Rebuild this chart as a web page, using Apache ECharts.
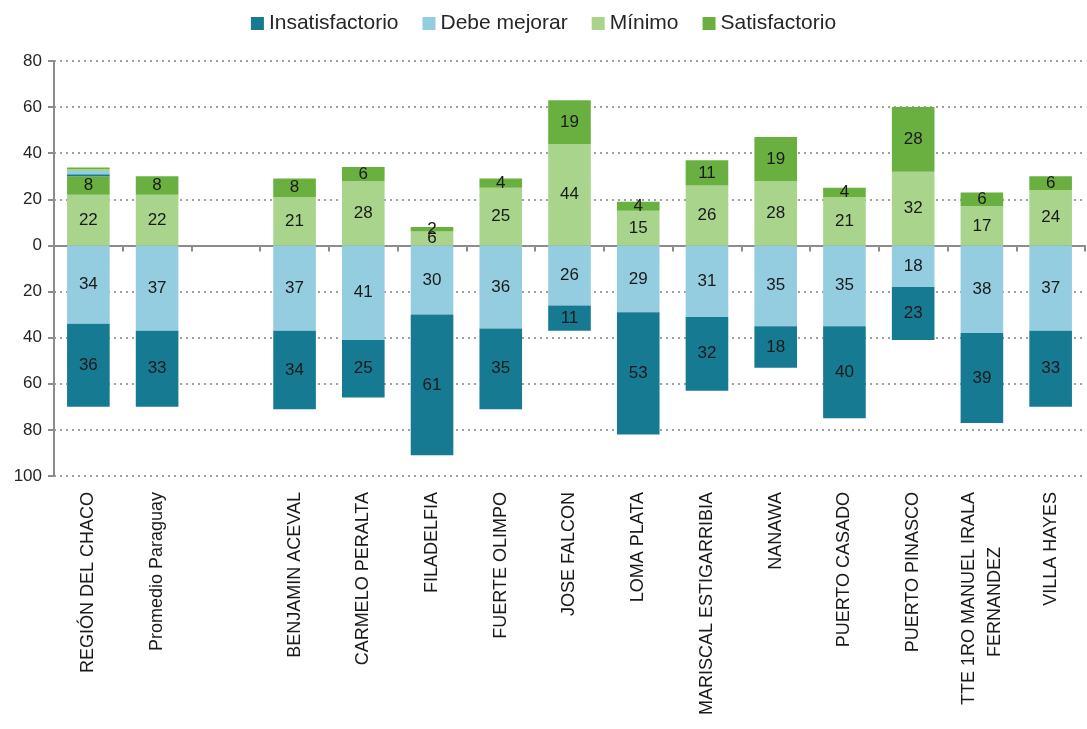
<!DOCTYPE html>
<html><head><meta charset="utf-8">
<script src="https://cdn.jsdelivr.net/npm/echarts@6/dist/echarts.min.js"></script>
<style>html,body{margin:0;padding:0;background:#fff}#c{width:1087px;height:729px}</style>
</head><body><div id="c"></div>
<script>
const categories = ['REGIÓN DEL CHACO','Promedio Paraguay','','BENJAMIN ACEVAL','CARMELO PERALTA','FILADELFIA','FUERTE OLIMPO','JOSE FALCON','LOMA PLATA','MARISCAL ESTIGARRIBIA','NANAWA','PUERTO CASADO','PUERTO PINASCO','TTE 1RO MANUEL IRALA\nFERNANDEZ','VILLA HAYES'];
const insatisfactorio = [36,33,null,34,25,61,35,11,53,32,18,40,23,39,33];
const debeMejorar     = [34,37,null,37,41,30,36,26,29,31,35,35,18,38,37];
const minimo          = [22,22,null,21,28,6,25,44,15,26,28,21,32,17,24];
const satisfactorio   = [8,8,null,8,6,2,4,19,4,11,19,4,28,6,6];
// small extra segments visible on top of the first bar
const extraInsat = [0.9];
const extraDebe  = [1.4];
const extraMin   = [0.7];
const extraSat   = [0.8];
const yTicks = [-100,-80,-60,-40,-20,0,20,40,60,80];

const FONT = 'Liberation Sans, Arial, sans-serif';
const colors = {ins:'#167a92', deb:'#95cde0', min:'#a8d48c', sat:'#6ab040'};
const neg = a => a.map(v => v == null ? null : -v);
const lbl = {show:true, position:'inside', color:'#1a1a1a', fontSize:17, fontFamily:FONT,
  formatter: p => Math.abs(Math.round(p.value))};
function bar(name, data, color, label){
  return {name, type:'bar', stack:'s', data, barWidth:'62%', itemStyle:{color}, label: label ? lbl : {show:false}, emphasis:{disabled:true}};
}
const chart = echarts.init(document.getElementById('c'), null, {renderer:'canvas'});
chart.setOption({
  animation:false,
  legend:{data:['Insatisfactorio','Debe mejorar','Mínimo','Satisfactorio'], top:8, left:'center',
    itemWidth:13, itemHeight:13, itemGap:24, icon:'rect',
    textStyle:{fontSize:21, color:'#262626', fontFamily:FONT}},
  grid:{left:54, right:2, top:61, bottom:253, containLabel:false},
  xAxis:[{type:'category', data:categories, position:'bottom', axisLine:{show:false, onZero:false}, axisTick:{show:false},
    axisLabel:{rotate:90, interval:0, fontSize:18, color:'#1a1a1a', margin:16, fontFamily:FONT, lineHeight:26,
      formatter: v => v.indexOf('\n') >= 0 ? v.split('\n').map((s,i)=> i===0 ? s : s + ' '.repeat(11)).join('\n') : v}},
   {type:'category', data:categories, position:'bottom', axisLine:{show:true, onZero:true, lineStyle:{color:'#8c8c8c', width:2}},
    axisTick:{show:true, interval:0, length:6, lineStyle:{color:'#8c8c8c', width:2}}, axisLabel:{show:false}}],
  yAxis:{type:'value', min:-100, max:80, interval:20,
    axisLine:{show:true, lineStyle:{color:'#8c8c8c', width:2}}, axisTick:{show:true, length:6, lineStyle:{color:'#8c8c8c', width:2}},
    splitLine:{show:true, lineStyle:{color:'#a0a0a0', type:[2,4], width:2}},
    axisLabel:{fontSize:17, margin:12, color:'#262626', fontFamily:FONT, formatter: v => yTicks.includes(v) ? String(Math.abs(v)) : ''}},
  series:[
    bar('Debe mejorar', neg(debeMejorar), colors.deb, true),
    bar('Insatisfactorio', neg(insatisfactorio), colors.ins, true),
    bar('Mínimo', minimo, colors.min, true),
    bar('Satisfactorio', satisfactorio, colors.sat, true),
    bar('x1', extraInsat, colors.ins, false),
    bar('x2', extraDebe, colors.deb, false),
    bar('x3', extraMin, colors.min, false),
    bar('x4', extraSat, colors.sat, false)
  ]
});
</script></body></html>
